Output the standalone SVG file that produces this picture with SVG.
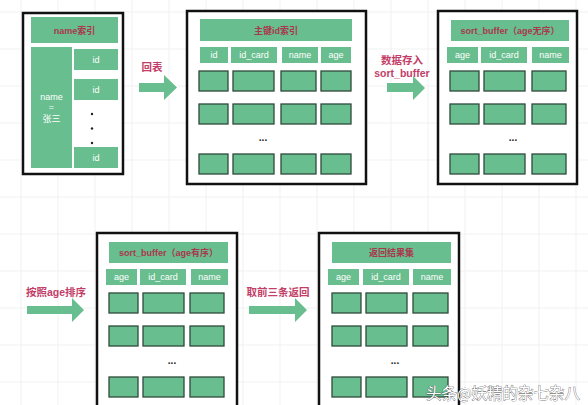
<svg xmlns="http://www.w3.org/2000/svg" width="588" height="405" viewBox="0 0 588 405">
<defs>
<style>
.bg{fill:#ffffff}
.grid line{stroke:#f1f1f1;stroke-width:1}
.frame{fill:#ffffff;stroke:#111111;stroke-width:2.5}
.g{fill:#68be8e}
.cell{fill:#68be8e;stroke:#2f4a3b;stroke-width:1.3}
.ht{font-family:"Liberation Sans","Noto Sans CJK SC",sans-serif;font-size:9px;font-weight:bold;fill:#a8384e;text-anchor:middle}
.wt{font-family:"Liberation Sans","Noto Sans CJK SC",sans-serif;font-size:9px;fill:#ffffff;text-anchor:middle}
.lbl{font-family:"Liberation Sans","Noto Sans CJK SC",sans-serif;font-size:10.5px;font-weight:bold;fill:#c23e68;text-anchor:middle}
.dots{font-family:"Liberation Sans",sans-serif;font-size:10px;font-weight:bold;fill:#222222;text-anchor:middle}
.arrow{fill:#68be8e}
.wm{font-family:"Noto Sans CJK SC",sans-serif;font-size:15.5px;fill:#ffffff;stroke:#444444;stroke-width:0.6;paint-order:stroke;text-anchor:middle}
</style>
</defs>
<rect class="bg" x="0" y="0" width="588" height="405"/>
<g class="grid">
<line x1="21" y1="0" x2="21" y2="405"/><line x1="58" y1="0" x2="58" y2="405"/><line x1="95" y1="0" x2="95" y2="405"/><line x1="132" y1="0" x2="132" y2="405"/><line x1="169" y1="0" x2="169" y2="405"/><line x1="206" y1="0" x2="206" y2="405"/><line x1="243" y1="0" x2="243" y2="405"/><line x1="280" y1="0" x2="280" y2="405"/><line x1="317" y1="0" x2="317" y2="405"/><line x1="354" y1="0" x2="354" y2="405"/><line x1="391" y1="0" x2="391" y2="405"/><line x1="428" y1="0" x2="428" y2="405"/><line x1="465" y1="0" x2="465" y2="405"/><line x1="502" y1="0" x2="502" y2="405"/><line x1="539" y1="0" x2="539" y2="405"/><line x1="576" y1="0" x2="576" y2="405"/>
<line x1="0" y1="12" x2="588" y2="12"/><line x1="0" y1="49" x2="588" y2="49"/><line x1="0" y1="86" x2="588" y2="86"/><line x1="0" y1="123" x2="588" y2="123"/><line x1="0" y1="160" x2="588" y2="160"/><line x1="0" y1="197" x2="588" y2="197"/><line x1="0" y1="234" x2="588" y2="234"/><line x1="0" y1="271" x2="588" y2="271"/><line x1="0" y1="308" x2="588" y2="308"/><line x1="0" y1="345" x2="588" y2="345"/><line x1="0" y1="382" x2="588" y2="382"/>
</g>

<g id="connectors">
<g id="edge-1">
<text class="lbl" x="152" y="71">回表</text>
<polygon class="arrow" points="139,83 164,83 164,75 177,87.5 164,100 164,92 139,92"/>
</g>
<g id="edge-2">
<text class="lbl" x="402" y="64">数据存入</text>
<text class="lbl" x="402" y="77">sort_buffer</text>
<polygon class="arrow" points="387,83 413,83 413,76 425,88 413,100 413,92 387,92"/>
</g>
<g id="edge-3">
<text class="lbl" x="56" y="296">按照age排序</text>
<polygon class="arrow" points="27,306 72,306 72,298 84,310 72,322 72,314 27,314"/>
</g>
<g id="edge-4">
<text class="lbl" x="278" y="296">取前三条返回</text>
<polygon class="arrow" points="249,306 295,306 295,298 307,310 295,322 295,314 249,314"/>
</g>
</g>

<g id="name-index">
<rect class="frame" x="23" y="13" width="100" height="161"/>
<rect class="g" x="31" y="17" width="87" height="26"/>
<text class="ht" x="74.5" y="33.5">name索引</text>
<rect class="g" x="31" y="47" width="41" height="121"/>
<text class="wt" x="51.5" y="100">name</text>
<text class="wt" x="51.5" y="110">=</text>
<text class="wt" x="51.5" y="122">张三</text>
<rect class="g" x="74" y="49" width="44" height="21"/>
<text class="wt" x="96" y="62.5">id</text>
<rect class="g" x="74" y="79" width="44" height="21"/>
<text class="wt" x="96" y="92.5">id</text>
<rect class="g" x="74" y="147" width="44" height="21"/>
<text class="wt" x="96" y="160.5">id</text>
<circle cx="92" cy="114" r="1.2" fill="#222"/>
<circle cx="92" cy="128.5" r="1.2" fill="#222"/>
<circle cx="92" cy="143" r="1.2" fill="#222"/>
</g>

<g id="primary-index">
<rect class="frame" x="187" y="11" width="179" height="173"/>
<rect class="g" x="200" y="19" width="152" height="22"/>
<text class="ht" x="276" y="33.5">主键id索引</text>
<rect class="g" x="200" y="47" width="28" height="16"/><text class="wt" x="214" y="58">id</text>
<rect class="g" x="231" y="47" width="46" height="16"/><text class="wt" x="254" y="58">id_card</text>
<rect class="g" x="282" y="47" width="36" height="16"/><text class="wt" x="300" y="58">name</text>
<rect class="g" x="321" y="47" width="30" height="16"/><text class="wt" x="336" y="58">age</text>
<rect class="cell" x="199" y="71" width="29" height="20"/><rect class="cell" x="233" y="71" width="41" height="20"/><rect class="cell" x="281" y="71" width="35" height="20"/><rect class="cell" x="321" y="71" width="30" height="20"/>
<rect class="cell" x="199" y="104" width="29" height="20"/><rect class="cell" x="233" y="104" width="41" height="20"/><rect class="cell" x="281" y="104" width="35" height="20"/><rect class="cell" x="321" y="104" width="30" height="20"/>
<rect class="cell" x="199" y="154" width="29" height="20"/><rect class="cell" x="233" y="154" width="41" height="20"/><rect class="cell" x="281" y="154" width="35" height="20"/><rect class="cell" x="321" y="154" width="30" height="20"/>
<text class="dots" x="263" y="141">...</text>
</g>

<g id="sort-buffer-unsorted">
<rect class="frame" x="438" y="11" width="139" height="173"/>
<rect class="g" x="451" y="20" width="118" height="21"/>
<text class="ht" x="510" y="34">sort_buffer（age无序）</text>
<rect class="g" x="447" y="47" width="31" height="16"/><text class="wt" x="462.5" y="58">age</text>
<rect class="g" x="481" y="47" width="46" height="16"/><text class="wt" x="504" y="58">id_card</text>
<rect class="g" x="532" y="47" width="37" height="16"/><text class="wt" x="550.5" y="58">name</text>
<rect class="cell" x="450" y="71" width="29" height="20"/><rect class="cell" x="484" y="71" width="41" height="20"/><rect class="cell" x="532" y="71" width="34" height="20"/>
<rect class="cell" x="450" y="104" width="29" height="20"/><rect class="cell" x="484" y="104" width="41" height="20"/><rect class="cell" x="532" y="104" width="34" height="20"/>
<rect class="cell" x="450" y="154" width="29" height="20"/><rect class="cell" x="484" y="154" width="41" height="20"/><rect class="cell" x="532" y="154" width="34" height="20"/>
<text class="dots" x="513" y="141">...</text>
</g>

<g id="sort-buffer-sorted">
<rect class="frame" x="97" y="233" width="140" height="176"/>
<rect class="g" x="109" y="242" width="119" height="21"/>
<text class="ht" x="168.5" y="256">sort_buffer（age有序）</text>
<rect class="g" x="106" y="269" width="31" height="16"/><text class="wt" x="121.5" y="280">age</text>
<rect class="g" x="140" y="269" width="46" height="16"/><text class="wt" x="163" y="280">id_card</text>
<rect class="g" x="191" y="269" width="37" height="16"/><text class="wt" x="209.5" y="280">name</text>
<rect class="cell" x="109" y="293" width="29" height="20"/><rect class="cell" x="143" y="293" width="41" height="20"/><rect class="cell" x="190" y="293" width="34" height="20"/>
<rect class="cell" x="109" y="326" width="29" height="20"/><rect class="cell" x="143" y="326" width="41" height="20"/><rect class="cell" x="190" y="326" width="34" height="20"/>
<rect class="cell" x="109" y="377" width="29" height="20"/><rect class="cell" x="143" y="377" width="41" height="20"/><rect class="cell" x="190" y="377" width="34" height="20"/>
<text class="dots" x="172" y="364">...</text>
</g>

<g id="result-set">
<rect class="frame" x="319" y="233" width="140" height="176"/>
<rect class="g" x="332" y="242" width="119" height="21"/>
<text class="ht" x="391.5" y="256">返回结果集</text>
<rect class="g" x="328" y="269" width="31" height="16"/><text class="wt" x="343.5" y="280">age</text>
<rect class="g" x="363" y="269" width="46" height="16"/><text class="wt" x="386" y="280">id_card</text>
<rect class="g" x="413" y="269" width="38" height="16"/><text class="wt" x="432" y="280">name</text>
<rect class="cell" x="332" y="293" width="29" height="20"/><rect class="cell" x="366" y="293" width="41" height="20"/><rect class="cell" x="413" y="293" width="35" height="20"/>
<rect class="cell" x="332" y="326" width="29" height="20"/><rect class="cell" x="366" y="326" width="41" height="20"/><rect class="cell" x="413" y="326" width="35" height="20"/>
<rect class="cell" x="332" y="377" width="29" height="20"/><rect class="cell" x="366" y="377" width="41" height="20"/><rect class="cell" x="413" y="377" width="35" height="20"/>
<text class="dots" x="395" y="364">...</text>
</g>

<text class="wm" x="503" y="399">头条@妖精的杂七杂八</text>
</svg>
